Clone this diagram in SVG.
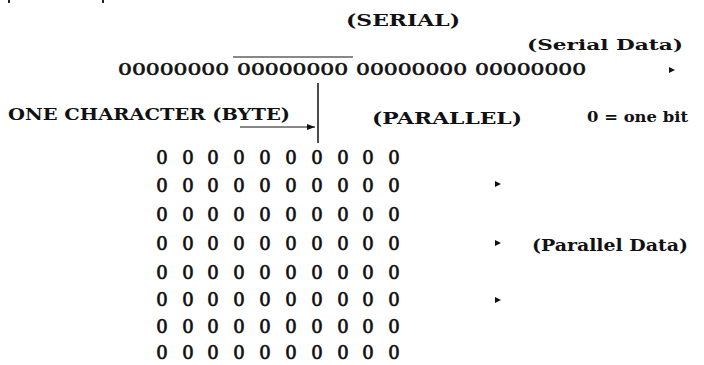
<svg xmlns="http://www.w3.org/2000/svg" width="704" height="365" viewBox="0 0 704 365">
<style>
text{font-family:"DejaVu Serif","Liberation Serif",serif;font-weight:bold;fill:#111}
.lbl{font-size:17px}
.sm{font-size:14px}
.bits{font-size:16px;font-weight:normal;stroke:#111;stroke-width:0.6}
.grid{font-size:18px;font-weight:normal;stroke:#111;stroke-width:0.7}
.ln{stroke:#111;fill:none}
.tri{fill:#111}
</style>
<defs>
<marker id="ah" markerWidth="8" markerHeight="6" refX="8" refY="3" orient="auto" markerUnits="userSpaceOnUse">
<path d="M0,0 L8,3 L0,6 Z" fill="#111"/>
</marker>
</defs>
<rect width="704" height="365" fill="#fff"/>
<rect x="8" y="0" width="2" height="3" fill="#222"/>
<rect x="102" y="0" width="2" height="3" fill="#222"/>

<g id="serial-title"><text class="lbl" x="346" y="26" textLength="114" lengthAdjust="spacingAndGlyphs">(SERIAL)</text></g>
<g id="serial-data-label"><text class="sm" x="527" y="50" textLength="156" lengthAdjust="spacingAndGlyphs">(Serial Data)</text></g>
<g id="serial-row">
<text class="bits" x="118" y="75" textLength="111" lengthAdjust="spacingAndGlyphs">00000000</text>
<text class="bits" x="237" y="75" textLength="111" lengthAdjust="spacingAndGlyphs">00000000</text>
<text class="bits" x="356" y="75" textLength="111" lengthAdjust="spacingAndGlyphs">00000000</text>
<text class="bits" x="475" y="75" textLength="111" lengthAdjust="spacingAndGlyphs">00000000</text>
</g>
<g id="byte-label"><text class="lbl" x="8" y="120" textLength="282" lengthAdjust="spacingAndGlyphs">ONE CHARACTER (BYTE)</text></g>
<g id="parallel-title"><text class="lbl" x="372" y="124" textLength="150" lengthAdjust="spacingAndGlyphs">(PARALLEL)</text></g>
<g id="legend"><text class="sm" x="587" y="122" textLength="101" lengthAdjust="spacingAndGlyphs">0 = one bit</text></g>
<g id="parallel-data-label"><text class="lbl" x="532" y="251" textLength="156" lengthAdjust="spacingAndGlyphs">(Parallel Data)</text></g>

<g id="parallel-grid">
<text class="grid" text-anchor="middle" x="162 188 213 239 265 291 317 343 368 394" y="164">0000000000</text>
<text class="grid" text-anchor="middle" x="162 188 213 239 265 291 317 343 368 394" y="192">0000000000</text>
<text class="grid" text-anchor="middle" x="162 188 213 239 265 291 317 343 368 394" y="221">0000000000</text>
<text class="grid" text-anchor="middle" x="162 188 213 239 265 291 317 343 368 394" y="250">0000000000</text>
<text class="grid" text-anchor="middle" x="162 188 213 239 265 291 317 343 368 394" y="279">0000000000</text>
<text class="grid" text-anchor="middle" x="162 188 213 239 265 291 317 343 368 394" y="306">0000000000</text>
<text class="grid" text-anchor="middle" x="162 188 213 239 265 291 317 343 368 394" y="333">0000000000</text>
<text class="grid" text-anchor="middle" x="162 188 213 239 265 291 317 343 368 394" y="359">0000000000</text>
</g>

<g id="connectors">
<line class="ln" x1="233" y1="57" x2="353" y2="57" stroke-width="1"/>
<line class="ln" x1="318" y1="83" x2="318" y2="143" stroke-width="1.5"/>
<line class="ln" x1="240" y1="127" x2="315" y2="127" stroke-width="1.2" marker-end="url(#ah)"/>
<path class="tri" d="M669,67 L675,70 L669,73 Z"/>
<path class="tri" d="M495,181 L501,184 L495,187 Z"/>
<path class="tri" d="M495,240 L501,243 L495,246 Z"/>
<path class="tri" d="M495,297 L501,300 L495,303 Z"/>
</g>
</svg>
